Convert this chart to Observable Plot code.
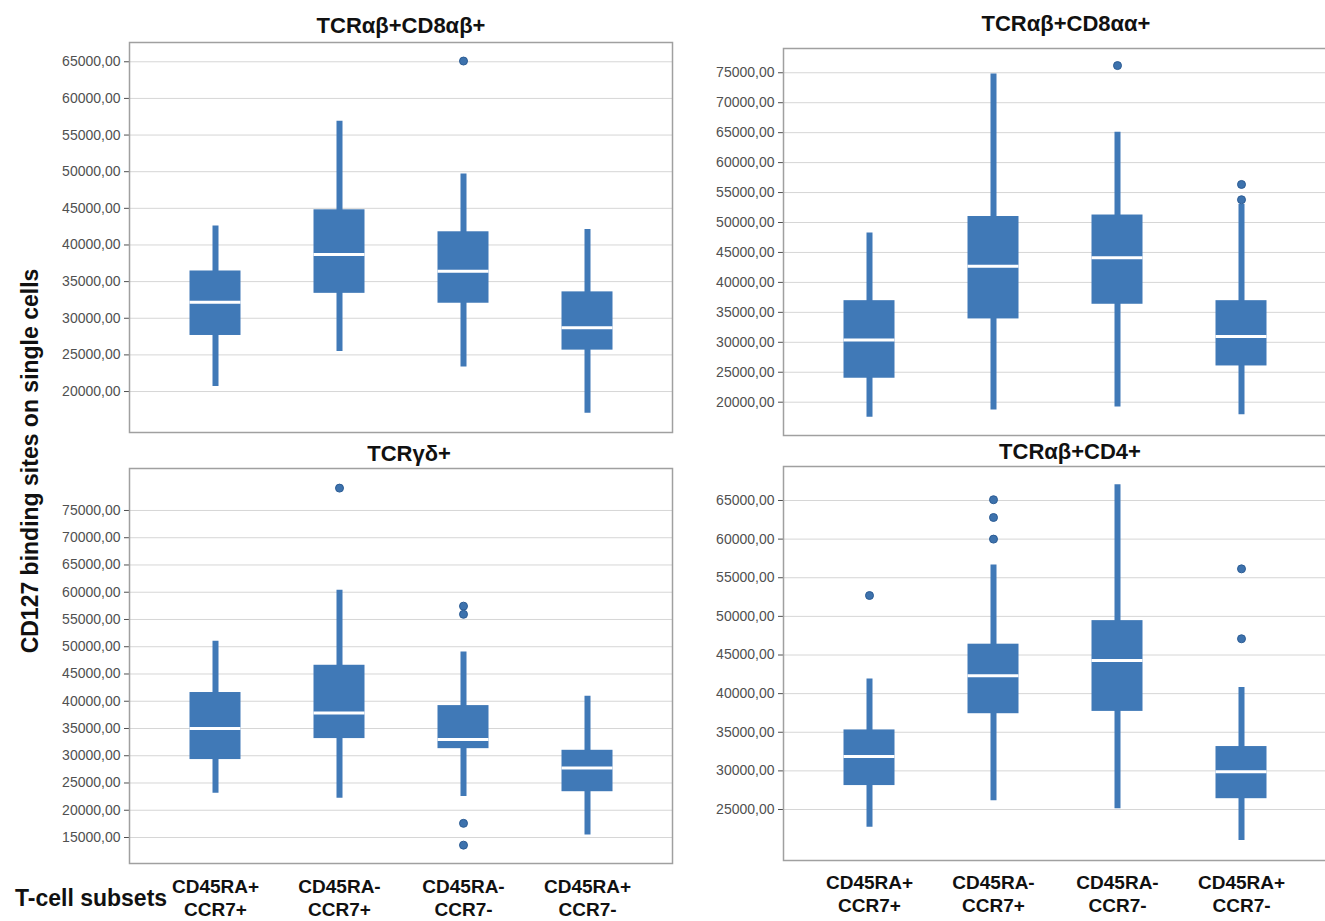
<!DOCTYPE html>
<html>
<head>
<meta charset="utf-8">
<script src="https://cdn.jsdelivr.net/npm/d3@7"></script>
<script src="https://cdn.jsdelivr.net/npm/@observablehq/plot@0.6"></script>
<style>
  html, body { margin: 0; padding: 0; background: #fff; overflow: hidden; }
  #root { position: relative; width: 1325px; height: 921px; overflow: hidden; background: #fff;
          font-family: "Liberation Sans", Arial, sans-serif; }
  .panel { position: absolute; }
  .ylab { position: absolute; width: 460px; left: -200px; top: 449px; height: 24px; line-height: 24px;
          text-align: center; font-size: 23px; font-weight: bold; color: #111; transform: rotate(-90deg); transform-origin: 50% 50%; white-space: nowrap; }
  .xlab { position: absolute; left: 15px; top: 887px; line-height: 23px; font-size: 23px; font-weight: bold; color: #111; white-space: nowrap; }
</style>
</head>
<body>
<div id="root">
  <div class="ylab">CD127 binding sites on single cells</div>
  <div class="xlab">T-cell subsets</div>
</div>
<script>
// ---- data ----
const subsets = ["CD45RA+\nCCR7+", "CD45RA-\nCCR7+", "CD45RA-\nCCR7-", "CD45RA+\nCCR7-"];
const panelTitles = ["TCRαβ+CD8αβ+", "TCRαβ+CD8αα+", "TCRγδ+", "TCRαβ+CD4+"];

// per panel, per subset (order of subsets)
const whiskerLow  = [[20700, 25450, 23350, 17050], [17500, 18700, 19200, 17900], [23100, 22200, 22500, 15450], [22700, 26150, 25100, 21000]];
const quartile1   = [[27650, 33400, 32050, 25650], [24000, 33900, 36350, 26050], [29300, 33150, 31300, 23400], [28100, 37400, 37700, 26400]];
const medians     = [[32200, 38700, 36400, 28700], [30400, 42700, 44100, 30950], [35000, 37850, 33000, 27750], [31850, 42300, 44300, 29900]];
const quartile3   = [[36450, 44800, 41800, 33600], [36950, 51000, 51250, 36950], [41600, 46600, 39200, 31000], [35300, 46400, 49450, 33150]];
const whiskerHigh = [[42600, 56900, 49700, 42100], [48250, 74800, 65050, 53000], [51000, 60350, 49050, 40900], [41900, 56650, 67050, 40800]];

// outliers: panel index, subset index, value
const outlierPanel  = [0, 1, 1, 1, 2, 2, 2, 2, 2, 3, 3, 3, 3, 3, 3];
const outlierSubset = [2, 2, 3, 3, 1, 2, 2, 2, 2, 0, 1, 1, 1, 3, 3];
const outlierValue  = [65100, 76200, 56350, 53800, 79100, 57450, 55950, 17600, 13600, 52700, 65100, 62800, 60000, 56150, 47100];

// y tick values per panel
const yTicks = [
  [20000, 25000, 30000, 35000, 40000, 45000, 50000, 55000, 60000, 65000],
  [20000, 25000, 30000, 35000, 40000, 45000, 50000, 55000, 60000, 65000, 70000, 75000],
  [15000, 20000, 25000, 30000, 35000, 40000, 45000, 50000, 55000, 60000, 65000, 70000, 75000],
  [25000, 30000, 35000, 40000, 45000, 50000, 55000, 60000, 65000]
];

// ---- layout ----
const BLUE = "#4079b7";
const layout = [
  {left: 0,   top: 0,   width: 680, height: 440, mL: 129, mR: 8,  mT: 42, mB: 8,  yDomain: [14410, 67630], xRange: [153, 649], titleDy: -10, titleDx: 0,   xAxis: false},
  {left: 660, top: 0,   width: 700, height: 440, mL: 123, mR: 20, mT: 48, mB: 5,  yDomain: [14440, 79050], xRange: [147, 643], titleDy: -18, titleDx: 4,   xAxis: false},
  {left: 0,   top: 440, width: 680, height: 481, mL: 129, mR: 8,  mT: 28, mB: 58, yDomain: [10230, 82700], xRange: [153, 649], titleDy: -8,  titleDx: 8,   xAxis: true, pad: 14},
  {left: 660, top: 440, width: 700, height: 481, mL: 123, mR: 20, mT: 26, mB: 61, yDomain: [18400, 69400], xRange: [147, 643], titleDy: -8,  titleDx: 8,   xAxis: true, pad: 13}
];

const fmt = d => d.toFixed(2).replace(".", ",");
const root = document.getElementById("root");

layout.forEach((L, p) => {
  const rows = subsets.map((s, i) => ({
    subset: s, lo: whiskerLow[p][i], q1: quartile1[p][i], med: medians[p][i], q3: quartile3[p][i], hi: whiskerHigh[p][i]
  }));
  const outs = outlierValue.map((v, k) => ({panel: outlierPanel[k], subset: subsets[outlierSubset[k]], value: v}))
    .filter(o => o.panel === p);
  const bandInset = 36.5;
  const marks = [
    Plot.gridY(yTicks[p], {stroke: "#d6d6d6", strokeOpacity: 1, strokeWidth: 1}),
    Plot.axisY(yTicks[p], {tickSize: 5, tickPadding: 4, fontSize: 14, tickFormat: fmt, color: "#505050", label: null}),
    Plot.frame({stroke: "#a0a0a0", strokeWidth: 1.5}),
    Plot.ruleX(rows, {x: "subset", y1: "lo", y2: "hi", stroke: BLUE, strokeWidth: 6}),
    Plot.barY(rows, {x: "subset", y1: "q1", y2: "q3", fill: BLUE, insetLeft: bandInset, insetRight: bandInset}),
    Plot.tickY(rows, {x: "subset", y: "med", stroke: "white", strokeWidth: 3, insetLeft: bandInset, insetRight: bandInset}),
    Plot.dot(outs, {x: "subset", y: "value", r: 4, fill: "#3d72ad", stroke: "#2c5c94", strokeWidth: 1}),
    Plot.text([panelTitles[p]], {text: d => d, frameAnchor: "top", lineAnchor: "bottom", dy: L.titleDy, dx: L.titleDx,
      fontSize: 22, fontWeight: "bold", fill: "#111"})
  ];
  if (L.xAxis) {
    marks.push(Plot.axisX({tickSize: 0, tickPadding: L.pad, fontSize: 19, fontWeight: "bold", lineHeight: 1.18,
      color: "#111", label: null}));
  }
  const chart = Plot.plot({
    width: L.width, height: L.height,
    marginLeft: L.mL, marginRight: L.mR, marginTop: L.mT, marginBottom: L.mB,
    style: {background: "transparent", fontFamily: "'Liberation Sans', Arial, sans-serif", overflow: "visible"},
    x: {type: "band", domain: subsets, range: L.xRange, padding: 0, axis: null},
    y: {domain: L.yDomain, axis: null},
    marks
  });
  chart.classList.add("panel");
  chart.style.left = L.left + "px";
  chart.style.top = L.top + "px";
  chart.style.maxWidth = "none";
  root.appendChild(chart);
});
</script>
</body>
</html>
